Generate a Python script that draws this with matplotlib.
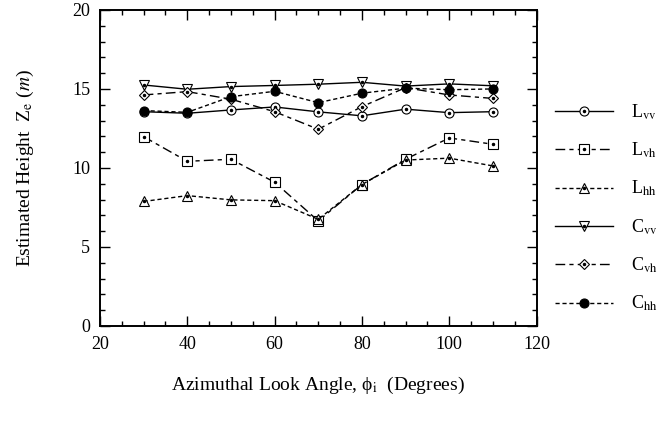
import numpy as np
import matplotlib
matplotlib.use('Agg')
import matplotlib.pyplot as plt
from matplotlib.ticker import MultipleLocator
from matplotlib.legend_handler import HandlerTuple

plt.rcParams['font.family'] = ['Liberation Serif', 'DejaVu Serif']
plt.rcParams['mathtext.fontset'] = 'stix'
plt.rcParams['font.size'] = 13

# look angles (degrees) and estimated heights (m)
angle = [30, 40, 50, 60, 70, 80, 90, 100, 110]
L_vv = [13.56, 13.46, 13.67, 13.86, 13.55, 13.30, 13.72, 13.50, 13.56]
L_vh = [11.98, 10.42, 10.55, 9.10, 6.65, 8.95, 10.55, 11.90, 11.50]
L_hh = [7.88, 8.25, 7.98, 7.93, 6.75, 8.95, 10.50, 10.62, 10.13]
C_vv = [15.25, 14.98, 15.15, 15.22, 15.30, 15.42, 15.18, 15.32, 15.20]
C_vh = [14.62, 14.83, 14.35, 13.56, 12.45, 13.88, 15.08, 14.62, 14.40]
C_hh = [13.63, 13.52, 14.51, 14.85, 14.13, 14.73, 15.05, 14.95, 15.00]

series = [
    (L_vv, r'L$_{\mathrm{vv}}$', 'o', (None, None), True),
    (L_vh, r'L$_{\mathrm{vh}}$', 's', (7, 3, 3, 3), True),
    (L_hh, r'L$_{\mathrm{hh}}$', '^', (3, 2), True),
    (C_vv, r'C$_{\mathrm{vv}}$', 'v', (None, None), True),
    (C_vh, r'C$_{\mathrm{vh}}$', 'D', (7, 3, 3, 3), True),
    (C_hh, r'C$_{\mathrm{hh}}$', 'o', (3, 2), False),
]

fig = plt.figure(figsize=(6.64, 4.22), dpi=100)
ax = fig.add_axes([0.1506, 0.2275, 0.6574, 0.749])

handles, labels = [], []
for vals, lab, mk, dash, hollow in series:
    ms = 5.5 if mk == 'D' else 6.5
    line, = ax.plot(angle, vals, color='black', lw=1.0, marker=mk, ms=ms,
                    mfc='white' if hollow else 'black', mec='black', mew=0.8,
                    ls='-' if dash[0] is None else '--')
    if dash[0] is not None:
        line.set_dashes(dash)
    hnd = line
    if hollow:
        dot, = ax.plot(angle, vals, ls='none', marker='o', ms=1.5,
                       color='black')
        hnd = (line, dot)
    handles.append(hnd)
    labels.append(lab)

ax.set_xlim(20, 120)
ax.set_ylim(0, 20)
ax.xaxis.set_major_locator(MultipleLocator(20))
ax.xaxis.set_minor_locator(MultipleLocator(5))
ax.yaxis.set_major_locator(MultipleLocator(5))
ax.yaxis.set_minor_locator(MultipleLocator(1))
ax.tick_params(which='both', direction='in', top=True, right=True,
               labelsize=13, width=1.0)
ax.tick_params(which='major', length=7, pad=7)
ax.tick_params(which='minor', length=3.5)
for sp in ax.spines.values():
    sp.set_linewidth(1.4)

ax.set_xlabel('Azimuthal Look Angle, ϕ$_{\\mathrm{i}}$  (Degrees)',
              fontsize=14, labelpad=16)
ax.set_ylabel(r'Estimated Height  Z$_{\mathrm{e}}$ ($m$)', fontsize=14,
              labelpad=26)

fig.legend(handles, labels, loc='upper left', bbox_to_anchor=(0.836, 0.758),
           frameon=False, handlelength=3.2, handletextpad=1.0,
           labelspacing=1.05, borderpad=0, borderaxespad=0, fontsize=13,
           handler_map={tuple: HandlerTuple(ndivide=1)})

fig.savefig('out.png', dpi=100)
